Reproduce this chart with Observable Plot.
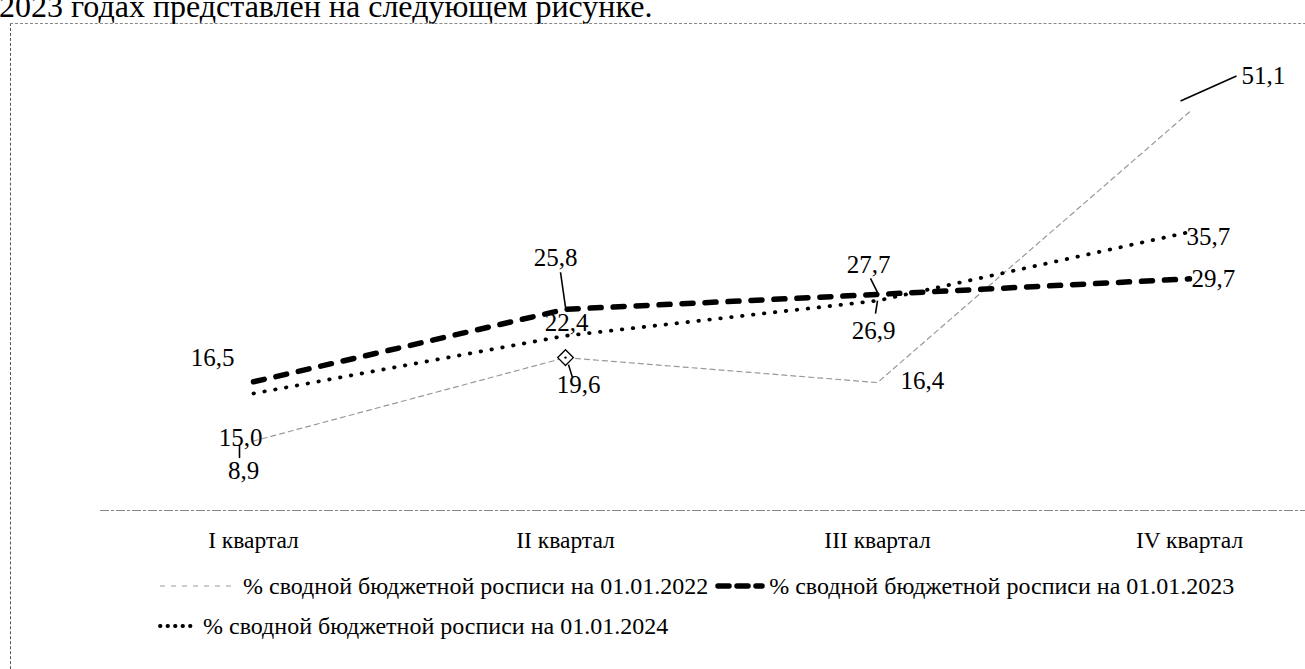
<!DOCTYPE html>
<html>
<head>
<meta charset="utf-8">
<script src="https://cdn.jsdelivr.net/npm/d3@7"></script>
<script src="https://cdn.jsdelivr.net/npm/@observablehq/plot@0.6"></script>
<style>
  body { margin: 0; background: #fff; }
  #wrap { position: relative; width: 1305px; height: 669px; overflow: hidden;
          font-family: "Liberation Serif", "Times New Roman", serif; color: #000; background: #fff; }
  #intro { position: absolute; left: -1px; top: -10px; font-size: 32px; line-height: 32px; white-space: nowrap; }
  #frame { position: absolute; left: 10px; top: 23px; width: 1400px; height: 700px;
           border-left: 1px dashed #555; border-top: 1px dashed #888; }
  #chart { position: absolute; left: 0; top: 0; }
  .leg { position: absolute; display: flex; align-items: center; font-size: 24px; white-space: nowrap; line-height: 24px; }
  .leg svg { display: block; margin-right: 3px; }
</style>
</head>
<body>
<div id="wrap">
  <div id="intro">2023 годах представлен на следующем рисунке.</div>
  <div id="frame"></div>
  <div id="chart"></div>
  <div class="leg" id="leg1" style="left:158px; top:574px;"></div>
  <div class="leg" id="leg2" style="left:158px; top:614px;"></div>
</div>
<script>
// ---- data ----
const quarters = ["I квартал", "II квартал", "III квартал", "IV квартал"];
const seriesNames = [
  "% сводной бюджетной росписи на 01.01.2022",
  "% сводной бюджетной росписи на 01.01.2023",
  "% сводной бюджетной росписи на 01.01.2024"
];
const values2022 = [8.9, 19.6, 16.4, 51.1];
const values2023 = [16.5, 25.8, 27.7, 29.7];
const values2024 = [15.0, 22.4, 26.9, 35.7];

const fmt = v => v.toFixed(1).replace(".", ",");
const toRows = vals => vals.map((v, i) => ({q: i, v}));
const r2022 = toRows(values2022), r2023 = toRows(values2023), r2024 = toRows(values2024);

// ---- layout ----
const W = 1305, H = 570, mL = 253, mR = 116, mT = 42, mB = 60, yMax = 60;
const pxX = (W - mL - mR) / 3, pxY = (H - mT - mB) / yMax;

// label placement (pixel offsets from the point)
const labels = [
  [values2023, 0, -41, -24, "middle"],
  [values2023, 1, -10, -51, "middle"],
  [values2023, 2, -9, -29, "middle"],
  [values2023, 3, 2, 0, "start"],
  [values2024, 0, -13, 44, "middle"],
  [values2024, 1, 1, -13, "middle"],
  [values2024, 2, -4, 30, "middle"],
  [values2024, 3, -3, 5, "start"],
  [values2022, 0, -10, 30, "middle"],
  [values2022, 1, 13, 27, "middle"],
  [values2022, 2, 23, -2, "start"],
  [values2022, 3, 52, -36, "start"]
];
// leader lines: [values, quarter, dx1, dy1, dx2, dy2]
const leaders = [
  [values2023, 1, 0, -2, -5, -37],
  [values2023, 2, 0, -2, -7, -16],
  [values2024, 2, 0, 0, -2, 13],
  [values2022, 0, -14, 4, -14, 17],
  [values2022, 1, 3, 7, 7, 20],
  [values2022, 3, -9, -11, 47, -36]
].map(([vals, i, dx1, dy1, dx2, dy2]) => ({
  x1: i + dx1 / pxX, y1: vals[i] - dy1 / pxY,
  x2: i + dx2 / pxX, y2: vals[i] - dy2 / pxY
}));

const font = "Liberation Serif, Times New Roman, serif";

const chart = Plot.plot({
  width: W, height: H,
  marginLeft: mL, marginRight: mR, marginTop: mT, marginBottom: mB,
  style: {fontFamily: font, fontSize: "24px", background: "transparent", color: "#000"},
  x: {type: "linear", domain: [0, 3], axis: null},
  y: {domain: [0, yMax], axis: null},
  marks: [
    Plot.ruleY([0], {x1: () => -(mL - 100) / pxX, x2: () => 3 + mR / pxX,
      stroke: "#888", strokeWidth: 1, strokeDasharray: "9,2,3,2"}),
    Plot.axisX({ticks: [0, 1, 2, 3], tickFormat: i => quarters[i], tickSize: 0, tickPadding: 21,
      fontSize: 23.5, fill: "#000"}),
    Plot.line(r2022, {x: "q", y: "v", stroke: "#999", strokeWidth: 1.2, strokeDasharray: "5,4"}),
    Plot.line(r2024, {x: "q", y: "v", stroke: "#000", strokeWidth: 3.8, strokeDasharray: "0.5,10.5", strokeLinecap: "round"}),
    Plot.line(r2023, {x: "q", y: "v", stroke: "#000", strokeWidth: 5.5, strokeDasharray: "11,12", strokeLinecap: "round"}),
    Plot.dot([r2022[1]], {x: "q", y: "v", symbol: "diamond2", r: 7, stroke: "#000", fill: "#fff", strokeWidth: 1.4}),
    Plot.dot([r2022[1]], {x: "q", y: "v", r: 1.2, fill: "#000"}),
    Plot.link(leaders, {x1: "x1", y1: "y1", x2: "x2", y2: "y2", stroke: "#000", strokeWidth: 1.6}),
    ...labels.map(([vals, i, dx, dy, anchor]) =>
      Plot.text([{q: i, v: vals[i]}], {x: "q", y: "v", text: d => fmt(d.v), dx, dy,
        textAnchor: anchor, fontSize: 25, fill: "#000", fontFamily: font}))
  ]
});
document.getElementById("chart").appendChild(chart);

// ---- legend ----
function swatch(kind) {
  const ns = "http://www.w3.org/2000/svg";
  const s = document.createElementNS(ns, "svg");
  const w = kind === "2022" ? 82 : kind === "2023" ? 54 : 42;
  s.setAttribute("width", w); s.setAttribute("height", 14);
  const l = document.createElementNS(ns, "line");
  l.setAttribute("x1", kind === "2023" ? 6 : 2); l.setAttribute("x2", w - 4);
  l.setAttribute("y1", 7); l.setAttribute("y2", 7);
  if (kind === "2022") { l.setAttribute("stroke", "#999"); l.setAttribute("stroke-width", 1.2); l.setAttribute("stroke-dasharray", "5,6"); }
  if (kind === "2023") { l.setAttribute("stroke", "#000"); l.setAttribute("stroke-width", 5.5); l.setAttribute("stroke-dasharray", "11,8"); l.setAttribute("stroke-linecap", "round"); }
  if (kind === "2024") { l.setAttribute("stroke", "#000"); l.setAttribute("stroke-width", 3.8); l.setAttribute("stroke-dasharray", "0.5,7"); l.setAttribute("stroke-linecap", "round"); }
  s.appendChild(l);
  return s;
}
function item(parent, kind, text) {
  parent.appendChild(swatch(kind));
  const sp = document.createElement("span");
  sp.textContent = text;
  sp.style.marginRight = "4px";
  parent.appendChild(sp);
}
const leg1 = document.getElementById("leg1"), leg2 = document.getElementById("leg2");
item(leg1, "2022", seriesNames[0]);
item(leg1, "2023", seriesNames[1]);
item(leg2, "2024", seriesNames[2]);
</script>
</body>
</html>
